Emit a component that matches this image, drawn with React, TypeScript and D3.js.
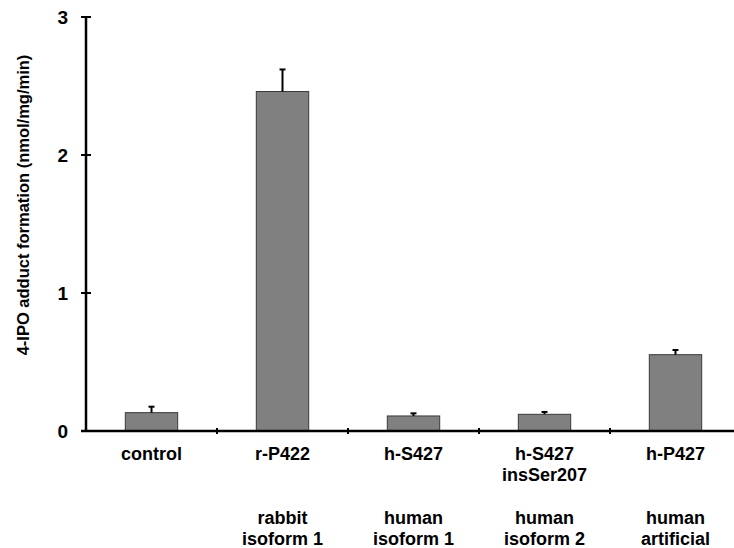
import React from 'react';
import * as d3 from 'd3';

const categories = ['control', 'r-P422', 'h-S427', 'h-S427 insSer207', 'h-P427'];
const nameLines = [['control'], ['r-P422'], ['h-S427'], ['h-S427', 'insSer207'], ['h-P427']];
const originLines = [[], ['rabbit', 'isoform 1'], ['human', 'isoform 1'], ['human', 'isoform 2'], ['human', 'artificial']];
const values = [0.133, 2.46, 0.109, 0.121, 0.553];
const errors = [0.043, 0.16, 0.019, 0.017, 0.034];
const yTicks = [0, 1, 2, 3];

export default function App() {
  const width = 734, height = 548;
  const left = 86, top = 17, bottom = 431;
  const font = 'Liberation Sans, Arial, sans-serif';

  const x = d3.scaleBand<string>()
    .domain(categories)
    .range([left, left + 131 * 5])
    .paddingInner(0.6)
    .paddingOuter(0.3);
  const band = d3.scaleBand<string>().domain(categories).range([left, left + 131 * 5]);

  const y = d3.scaleLinear().domain([0, 3]).range([bottom, top]);

  return (
    <svg width={width} height={height} style={{ position: 'absolute', left: 0, top: 0 }}>
      <rect width={width} height={height} fill="white" />
      {categories.map((c, i) => {
        const bx = x(c)!;
        const cx = bx + x.bandwidth() / 2;
        return (
          <g key={c}>
            <rect x={bx} y={y(values[i])} width={x.bandwidth()} height={bottom - y(values[i])}
              fill="#808080" stroke="#3a3a3a" strokeWidth={1} />
            <line x1={cx} x2={cx} y1={y(values[i])} y2={y(values[i] + errors[i])} stroke="black" strokeWidth={2} />
            <line x1={cx - 3} x2={cx + 3} y1={y(values[i] + errors[i])} y2={y(values[i] + errors[i])} stroke="black" strokeWidth={2} />
          </g>
        );
      })}
      {/* y axis */}
      <line x1={left} x2={left} y1={top} y2={bottom} stroke="black" strokeWidth={2.5} />
      {yTicks.map(t => (
        <g key={t}>
          <line x1={left - 5} x2={left + 5} y1={y(t)} y2={y(t)} stroke="black" strokeWidth={2} />
          <text x={left - 18} y={y(t)} dy="0.36em" textAnchor="end" fontFamily={font}
            fontWeight="bold" fontSize={19}>{t}</text>
        </g>
      ))}
      {/* x axis */}
      <line x1={left - 5} x2={width} y1={bottom} y2={bottom} stroke="black" strokeWidth={2.5} />
      {categories.slice(1).map(c => (
        <line key={c} x1={band(c)!} x2={band(c)!} y1={bottom - 3} y2={bottom + 3} stroke="black" strokeWidth={2} />
      ))}
      {categories.map((c, i) => {
        const cx = band(c)! + band.bandwidth() / 2;
        return (
          <g key={c} fontFamily={font} fontWeight="bold" fontSize={18} textAnchor="middle">
            {nameLines[i].map((l, j) => (
              <text key={l} x={cx} y={460 + j * 21}>{l}</text>
            ))}
            {originLines[i].map((l, j) => (
              <text key={l + j} x={cx} y={524 + j * 21}>{l}</text>
            ))}
          </g>
        );
      })}
      <text transform="translate(29,205) rotate(-90)" textAnchor="middle"
        fontFamily={font} fontWeight="bold" fontSize={16.5}>4-IPO adduct formation (nmol/mg/min)</text>
    </svg>
  );
}
